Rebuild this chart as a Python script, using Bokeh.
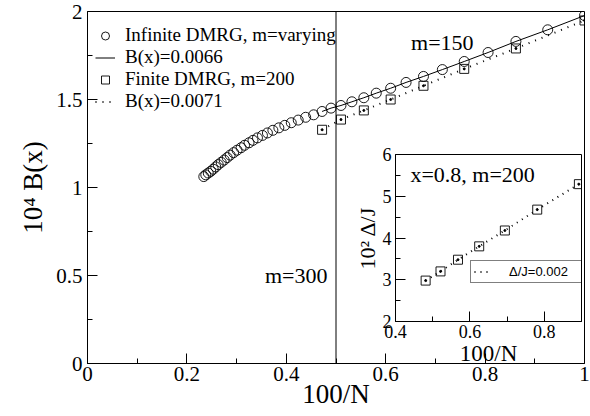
from bokeh.plotting import figure
from bokeh.models import (Range1d, Span, Legend, LegendItem, FixedTicker,
                          CustomJSTickFormatter, Label)
from bokeh.layouts import column
from bokeh.embed import file_html
from bokeh.resources import INLINE

# ---------------- data ----------------
# Infinite DMRG, m=varying  (x = 100/N)
inf_x = [1.000, 0.926, 0.862, 0.806, 0.758, 0.714, 0.676, 0.641, 0.610, 0.581,
         0.556, 0.532, 0.510, 0.490, 0.472, 0.455, 0.439, 0.424, 0.410, 0.397,
         0.385, 0.373, 0.362, 0.352, 0.342, 0.333, 0.325, 0.316, 0.309, 0.301,
         0.294, 0.287, 0.281, 0.275, 0.269, 0.263, 0.258, 0.253, 0.248, 0.243,
         0.238, 0.234]
inf_y = [1.977, 1.896, 1.830, 1.767, 1.716, 1.670, 1.631, 1.597, 1.564, 1.536,
         1.510, 1.487, 1.466, 1.451, 1.432, 1.413, 1.399, 1.383, 1.368, 1.353,
         1.339, 1.325, 1.310, 1.296, 1.282, 1.268, 1.254, 1.240, 1.226, 1.212,
         1.198, 1.184, 1.170, 1.156, 1.143, 1.130, 1.117, 1.104, 1.092, 1.082,
         1.072, 1.062]
# fit B(x)=0.0066
fit66_x = [1.000, 0.926, 0.862, 0.806, 0.758, 0.714, 0.676, 0.641, 0.610, 0.581,
           0.556, 0.532, 0.510, 0.490, 0.472]
fit66_y = [1.977, 1.896, 1.830, 1.767, 1.716, 1.670, 1.631, 1.597, 1.564, 1.536,
           1.510, 1.487, 1.466, 1.451, 1.432]
# Finite DMRG, m=200
fin_x = [0.472, 0.510, 0.556, 0.610, 0.676, 0.758, 0.862, 1.000]
fin_y = [1.328, 1.386, 1.438, 1.500, 1.578, 1.674, 1.790, 1.949]
# fit B(x)=0.0071
fit71_x = [0.472, 0.510, 0.556, 0.610, 0.676, 0.758, 0.862, 1.000]
fit71_y = [1.328, 1.386, 1.438, 1.500, 1.578, 1.674, 1.790, 1.949]
# inset: x=0.8, m=200 gap
gap_x = [0.481, 0.521, 0.568, 0.625, 0.694, 0.781, 0.893]
gap_y = [2.98, 3.20, 3.48, 3.80, 4.18, 4.68, 5.29]

main_x_ticks = [0, 0.2, 0.4, 0.6, 0.8, 1.0]
main_x_minor = [0.1, 0.3, 0.5, 0.7, 0.9]
main_y_ticks = [0, 0.5, 1.0, 1.5, 2.0]
main_y_minor = [0.25, 0.75, 1.25, 1.75]
inset_x_ticks = [0.4, 0.6, 0.8]
inset_x_minor = [0.5, 0.7, 0.9]
inset_y_ticks = [2, 3, 4, 5, 6]
inset_y_minor = [2.5, 3.5, 4.5, 5.5]
divider_x = 0.5

SERIF = "Liberation Serif"
SANS = "Liberation Sans"


def style_axis(ax, label, label_size, tick_size, tick_standoff, label_standoff):
    ax.axis_label = label
    ax.axis_label_text_font = SERIF
    ax.axis_label_text_font_size = label_size
    ax.axis_label_text_font_style = "normal"
    ax.axis_label_text_color = "black"
    ax.axis_label_standoff = label_standoff
    ax.major_label_text_font = SERIF
    ax.major_label_text_font_size = tick_size
    ax.major_label_text_color = "black"
    ax.major_label_standoff = tick_standoff
    ax.major_tick_in = 10
    ax.major_tick_out = 0
    ax.minor_tick_in = 5
    ax.minor_tick_out = 0
    ax.axis_line_color = "black"
    ax.major_tick_line_color = "black"
    ax.minor_tick_line_color = "black"
    ax.formatter = CustomJSTickFormatter(code="return String(Number(tick.toFixed(2)))")


# ---------------- main figure ----------------
p = figure(frame_width=497, frame_height=352, x_range=Range1d(0, 1), y_range=Range1d(0, 2),
           output_backend="svg", toolbar_location=None,
           min_border_left=87, min_border_right=6, min_border_top=11, min_border_bottom=53)
p.grid.visible = False
p.outline_line_color = "black"
p.xaxis.ticker = FixedTicker(ticks=main_x_ticks, minor_ticks=main_x_minor)
p.yaxis.ticker = FixedTicker(ticks=main_y_ticks, minor_ticks=main_y_minor)
style_axis(p.xaxis[0], "100/N", "27px", "21px", 3, -5)
style_axis(p.yaxis[0], "10\u2074 B(x)", "27px", "21px", 5, 5)
p.add_layout(Span(location=divider_x, dimension="height", line_color="black", line_width=1))

r_circ = p.scatter(inf_x, inf_y, marker="circle", size=10, fill_color=None,
                   line_color="black", line_width=0.9)
r_l66 = p.line(fit66_x, fit66_y, line_color="black", line_width=1)
r_l71 = p.line(fit71_x, fit71_y, line_color="black", line_width=2, line_dash="1 6")
r_sq = p.scatter(fin_x, fin_y, marker="square", size=9, fill_color=None,
                 line_color="black", line_width=0.9)
p.scatter(fin_x, fin_y, marker="circle", size=2, fill_color="black", line_color="black")

leg = Legend(items=[
    LegendItem(label="Infinite DMRG, m=varying", renderers=[r_circ]),
    LegendItem(label="B(x)=0.0066", renderers=[r_l66]),
    LegendItem(label="Finite DMRG, m=200", renderers=[r_sq]),
    LegendItem(label="B(x)=0.0071", renderers=[r_l71]),
], location=(8, 251), padding=0, margin=0, spacing=0,
    glyph_width=20, glyph_height=21, label_height=21, label_standoff=10,
    label_text_font=SERIF, label_text_font_size="19px", label_text_color="black",
    border_line_alpha=0, background_fill_alpha=0)
p.add_layout(leg)
p.add_layout(Label(x=0.714, y=1.755, text="m=150", text_align="center",
                   text_font=SERIF, text_font_size="22px", text_color="black"))
p.add_layout(Label(x=0.42, y=0.43, text="m=300", text_align="center",
                   text_font=SERIF, text_font_size="22px", text_color="black"))

# ---------------- inset figure (overlaid, transparent) ----------------
# borders equal to the main figure's so the column's frame alignment changes nothing
q = figure(width=279, height=232, x_range=Range1d(0.4, 0.9), y_range=Range1d(2, 6),
           output_backend="svg", toolbar_location=None, sizing_mode="fixed",
           min_border_left=87, min_border_right=6, min_border_top=10, min_border_bottom=55,
           styles={"position": "absolute", "left": "308px", "top": "144px",
                   "width": "279px", "height": "232px"})
q.grid.visible = False
q.outline_line_color = "black"
q.background_fill_alpha = 0
q.border_fill_alpha = 0
q.xaxis.ticker = FixedTicker(ticks=inset_x_ticks, minor_ticks=inset_x_minor)
q.yaxis.ticker = FixedTicker(ticks=inset_y_ticks, minor_ticks=inset_y_minor)
style_axis(q.xaxis[0], "100/N", "23px", "18px", 3, 0)
style_axis(q.yaxis[0], "10\u00b2 \u0394/J", "22px", "18px", 4, 0)

r_gl = q.line(gap_x, gap_y, line_color="black", line_width=2, line_dash="1 5")
q.scatter(gap_x, gap_y, marker="square", size=9, fill_color=None, line_color="black", line_width=0.9)
q.scatter(gap_x, gap_y, marker="circle", size=2, fill_color="black", line_color="black")
qleg = Legend(items=[LegendItem(label="\u0394/J=0.002", renderers=[r_gl])],
              location=(75, 38), padding=3, margin=0, spacing=0,
              glyph_width=17, glyph_height=15, label_height=15, label_width=70,
              label_standoff=18, label_text_font=SANS, label_text_font_size="13px",
              label_text_color="black", border_line_color="black", border_line_width=1,
              background_fill_color="white", background_fill_alpha=1)
q.add_layout(qleg)
q.add_layout(Label(x=0.44, y=5.21, text="x=0.8, m=200", text_font=SERIF,
                   text_font_size="22px", text_color="black"))

layout = column(p, q, styles={"position": "relative"})
open("out.html", "w").write(file_html(layout, INLINE))
